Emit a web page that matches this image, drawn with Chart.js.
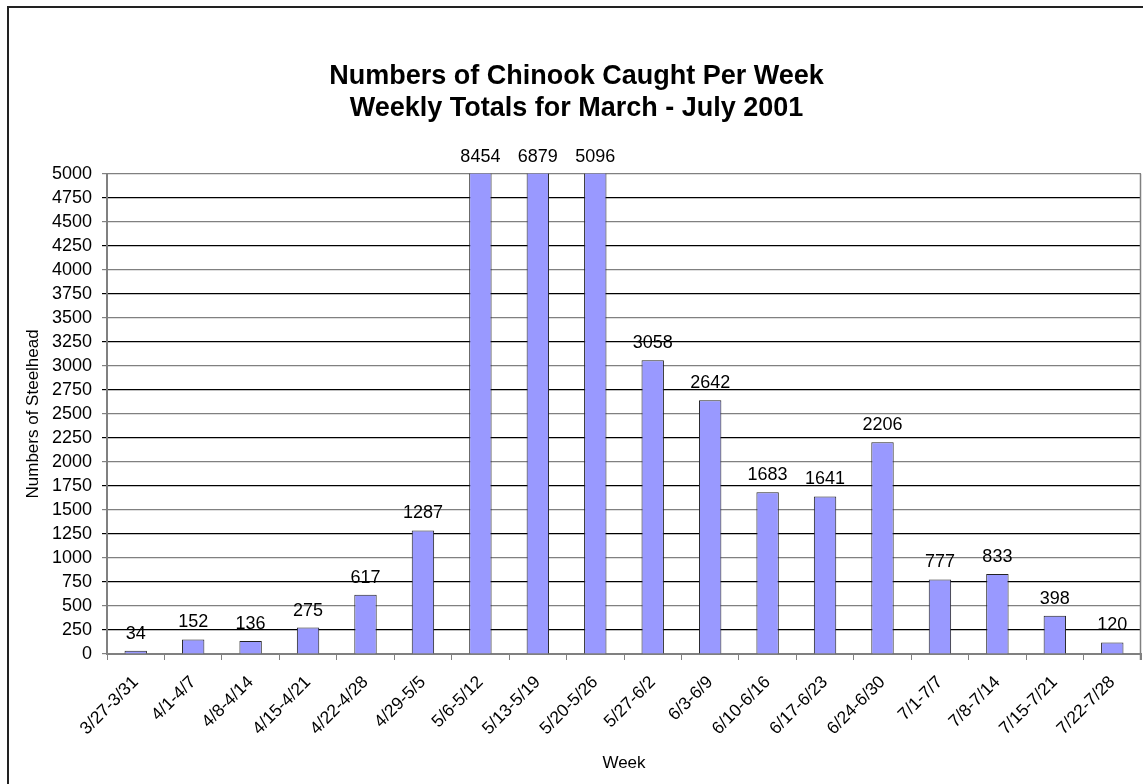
<!DOCTYPE html>
<html>
<head>
<meta charset="utf-8">
<title>Numbers of Chinook Caught Per Week</title>
<script src="https://cdn.jsdelivr.net/npm/chart.js@4.4.1/dist/chart.umd.min.js"></script>
<style>
  html, body { margin: 0; padding: 0; background: #fff; }
  #wrap { position: relative; width: 1143px; height: 784px; }
</style>
</head>
<body>
<div id="wrap"><canvas id="catchChart" width="1143" height="784"></canvas></div>
<script>
// weekly catch totals, March - July 2001
const weeks = ['3/27-3/31', '4/1-4/7', '4/8-4/14', '4/15-4/21', '4/22-4/28', '4/29-5/5',
  '5/6-5/12', '5/13-5/19', '5/20-5/26', '5/27-6/2', '6/3-6/9', '6/10-6/16',
  '6/17-6/23', '6/24-6/30', '7/1-7/7', '7/8-7/14', '7/15-7/21', '7/22-7/28'];
const fishCaught = [34, 152, 136, 275, 617, 1287, 8454, 6879, 5096, 3058, 2642, 1683,
  1641, 2206, 777, 833, 398, 120];
const yMax = 5000;
const yStep = 250;

const FONT = '"Liberation Sans", Arial, sans-serif';
Chart.defaults.font.family = FONT;
Chart.defaults.color = '#000';

// outer frame plus the right edge of the plot area
const framePlugin = {
  id: 'frame',
  afterDraw(chart) {
    const ctx = chart.ctx;
    const area = chart.chartArea;
    ctx.save();
    ctx.strokeStyle = '#222';
    ctx.lineWidth = 2;
    ctx.strokeRect(8, 7, 2000, 2000);
    ctx.strokeStyle = '#808080';
    ctx.lineWidth = 1.5;
    ctx.beginPath();
    ctx.moveTo(area.right - 0.5, area.top);
    ctx.lineTo(area.right - 0.5, area.bottom + 6);
    ctx.stroke();
    ctx.restore();
  }
};

// value labels above each bar (bars taller than the axis get theirs above the top)
const valueLabels = {
  id: 'valueLabels',
  afterDatasetsDraw(chart) {
    const ctx = chart.ctx;
    const yScale = chart.scales.y;
    const meta = chart.getDatasetMeta(0);
    ctx.save();
    ctx.font = '18px ' + FONT;
    ctx.fillStyle = '#000';
    ctx.textAlign = 'center';
    ctx.textBaseline = 'middle';
    meta.data.forEach((bar, i) => {
      const v = fishCaught[i];
      const top = Math.max(yScale.getPixelForValue(v), chart.chartArea.top);
      ctx.fillText(String(v), bar.x, top - 17);
    });
    ctx.restore();
  }
};

const gridColor = (c) => (c.tick && c.tick.value % 500 === 0) ? '#808080' : '#000';

const ctx = document.getElementById('catchChart').getContext('2d');
new Chart(ctx, {
  type: 'bar',
  data: {
    labels: weeks,
    datasets: [{
      data: fishCaught,
      backgroundColor: '#9999FF',
      borderColor: '#222',
      borderWidth: 1,
      categoryPercentage: 1,
      barPercentage: 0.39
    }]
  },
  options: {
    responsive: false,
    animation: false,
    layout: { padding: { left: 12, right: 2, top: 0, bottom: 10 } },
    plugins: {
      legend: { display: false },
      tooltip: { enabled: false },
      title: {
        display: true,
        text: ['Numbers of Chinook Caught Per Week', 'Weekly Totals for March - July 2001'],
        font: { size: 27, weight: 'bold' },
        lineHeight: 1.25,
        color: '#000',
        padding: { top: 60, bottom: 49 }
      }
    },
    scales: {
      x: {
        grid: {
          display: true,
          drawOnChartArea: false,
          drawTicks: true,
          tickLength: 6,
          color: '#808080',
          offset: true
        },
        border: { display: true, color: '#808080', width: 2 },
        ticks: {
          font: { size: 17.5 },
          color: '#000',
          minRotation: 45,
          maxRotation: 45,
          autoSkip: false,
          padding: 12
        },
        title: {
          display: true,
          text: 'Week',
          font: { size: 17 },
          color: '#000',
          padding: { top: 0, bottom: 0 }
        },
        afterFit(scale) { scale.height = 120; }
      },
      y: {
        min: 0,
        max: yMax,
        grid: {
          color: gridColor,
          tickColor: gridColor,
          tickLength: 5,
          lineWidth: 1.2
        },
        border: { display: true, color: '#808080', width: 2 },
        ticks: {
          stepSize: yStep,
          autoSkip: false,
          font: { size: 18 },
          color: '#000',
          padding: 10,
          callback: (value) => String(value)
        },
        title: {
          display: true,
          text: 'Numbers of Steelhead',
          font: { size: 17 },
          color: '#000',
          padding: { top: 11, bottom: 0 }
        },
        afterFit(scale) { scale.width = 95; }
      }
    }
  },
  plugins: [framePlugin, valueLabels]
});
</script>
</body>
</html>
